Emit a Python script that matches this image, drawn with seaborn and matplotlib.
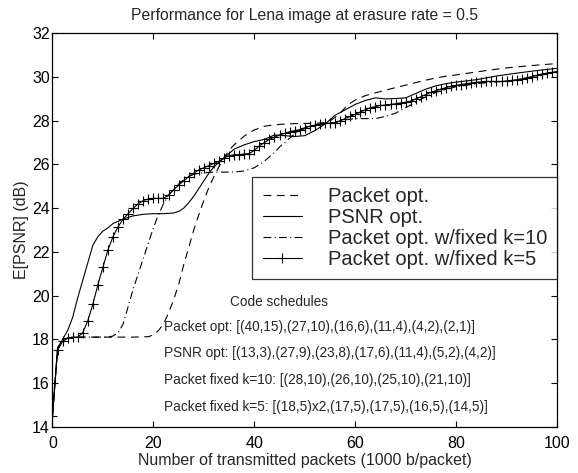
import numpy as np
import pandas as pd
import matplotlib
matplotlib.use("Agg")
import matplotlib.pyplot as plt
import seaborn as sns

# ---------------- data ----------------
title = "Performance for Lena image at erasure rate = 0.5"
xlabel = "Number of transmitted packets (1000 b/packet)"
ylabel = "E[PSNR] (dB)"
xticks = [0, 20, 40, 60, 80, 100]
yticks = [14, 16, 18, 20, 22, 24, 26, 28, 30, 32]

series_names = ["Packet opt.", "PSNR opt.", "Packet opt. w/fixed k=10", "Packet opt. w/fixed k=5"]

pkt_x = [0, 1, 2, 4, 10, 16, 19, 20, 21, 22, 23, 24, 25, 26, 27, 28, 29, 30, 31, 32, 33, 34,
         35, 36, 37, 38, 39, 40, 42, 44, 46, 48, 50, 52, 54, 55, 56, 57, 58, 59, 60, 62, 64,
         66, 68, 70, 72, 74, 76, 78, 80, 83, 86, 90, 95, 100]
pkt_y = [14.5, 17.6, 18.0, 18.1, 18.1, 18.1, 18.12, 18.2, 18.4, 18.7, 19.2, 19.8, 20.5, 21.4,
         22.2, 23.0, 23.7, 24.35, 24.95, 25.45, 25.9, 26.3, 26.65, 26.9, 27.1, 27.3, 27.45,
         27.58, 27.75, 27.82, 27.85, 27.87, 27.88, 27.88, 27.92, 28.0, 28.15, 28.35, 28.6,
         28.8, 28.95, 29.15, 29.28, 29.4, 29.52, 29.63, 29.75, 29.86, 29.96, 30.04, 30.1,
         30.2, 30.3, 30.42, 30.53, 30.62]

psnr_x = [0, 1, 2, 3, 4, 5, 6, 7, 8, 9, 10, 11, 12, 14, 16, 18, 20, 22, 24, 25, 26, 27, 28,
          29, 30, 31, 32, 33, 34, 36, 38, 40, 42, 44, 46, 48, 50, 52, 54, 56, 58, 60, 62, 64,
          66, 68, 70, 72, 74, 76, 78, 80, 84, 88, 92, 96, 100]
psnr_y = [14.5, 17.5, 18.0, 18.4, 19.0, 19.9, 20.7, 21.5, 22.3, 22.7, 22.95, 23.1, 23.3,
          23.5, 23.65, 23.72, 23.75, 23.75, 23.78, 23.85, 24.0, 24.25, 24.55, 24.9, 25.25,
          25.6, 25.9, 26.1, 26.3, 26.7, 26.9, 27.05, 27.15, 27.35, 27.32, 27.28, 27.32, 27.55,
          27.85, 28.25, 28.5, 28.75, 28.93, 29.05, 29.0, 29.02, 29.05, 29.25, 29.45, 29.6,
          29.7, 29.77, 29.88, 30.05, 30.18, 30.3, 30.4]

k10_x = [0, 1, 2, 4, 8, 11, 12, 13, 14, 15, 16, 17, 18, 19, 20, 21, 22, 23, 24, 25, 26, 27,
         28, 29, 30, 32, 34, 36, 38, 40, 41, 42, 43, 44, 45, 46, 47, 48, 49, 50, 52, 54, 56,
         58, 60, 62, 64, 66, 68, 70, 72, 74, 76, 78, 80, 84, 88, 92, 96, 100]
k10_y = [14.5, 17.6, 18.0, 18.1, 18.1, 18.1, 18.15, 18.3, 18.7, 19.5, 20.3, 21.0, 21.7, 22.4,
         23.1, 23.7, 24.2, 24.6, 24.85, 25.1, 25.3, 25.45, 25.55, 25.6, 25.62, 25.65, 25.65,
         25.66, 25.7, 25.85, 26.0, 26.15, 26.35, 26.55, 26.8, 27.0, 27.2, 27.4, 27.55, 27.65,
         27.8, 27.87, 27.92, 28.05, 28.1, 28.1, 28.1, 28.2, 28.35, 28.6, 28.85, 29.1, 29.3,
         29.45, 29.55, 29.7, 29.78, 29.85, 30.05, 30.25]

k5_x = list(range(0, 101))
k5_y = [14.5, 17.5, 17.9, 18.05, 18.1, 18.1, 18.3, 18.85, 19.6, 20.5, 21.3, 22.1, 22.7, 23.15,
        23.5, 23.75, 24.0, 24.2, 24.35, 24.42, 24.45, 24.45, 24.45, 24.6, 24.85, 25.05, 25.25,
        25.45, 25.6, 25.75, 25.85, 25.95, 26.05, 26.15, 26.3, 26.4, 26.45, 26.45, 26.48, 26.5,
        26.65, 26.85, 27.0, 27.15, 27.25, 27.35, 27.42, 27.5, 27.55, 27.6, 27.68, 27.75, 27.8,
        27.85, 27.88, 27.9, 27.92, 28.0, 28.1, 28.2, 28.3, 28.4, 28.5, 28.6, 28.65, 28.7,
        28.72, 28.75, 28.78, 28.82, 28.85, 28.9, 29.0, 29.1, 29.2, 29.3, 29.38, 29.45, 29.52,
        29.58, 29.62, 29.66, 29.7, 29.73, 29.76, 29.78, 29.8, 29.8, 29.8, 29.8, 29.82, 29.85,
        29.88, 29.92, 29.97, 30.02, 30.08, 30.14, 30.18, 30.22, 30.25]

schedule_header = "Code schedules"
schedule_lines = [
    "Packet opt: [(40,15),(27,10),(16,6),(11,4),(4,2),(2,1)]",
    "PSNR opt: [(13,3),(27,9),(23,8),(17,6),(11,4),(5,2),(4,2)]",
    "Packet fixed k=10: [(28,10),(26,10),(25,10),(21,10)]",
    "Packet fixed k=5: [(18,5)x2,(17,5),(17,5),(16,5),(14,5)]",
]

# ---------------- style ----------------
sns.set_theme(style="ticks")
plt.rcParams["font.family"] = ["Liberation Sans", "DejaVu Sans"]
plt.rcParams["xtick.direction"] = "in"
plt.rcParams["ytick.direction"] = "in"

fig = plt.figure(figsize=(5.78, 4.73), dpi=100)
ax = fig.add_axes([0.0908, 0.0979, 0.8729, 0.8315])

lw = 0.8
sns.lineplot(x=pkt_x, y=pkt_y, ax=ax, color="black", lw=lw, linestyle=(0, (7, 5)),
             label=series_names[0])
sns.lineplot(x=psnr_x, y=psnr_y, ax=ax, color="black", lw=lw, linestyle="-",
             label=series_names[1])
sns.lineplot(x=k10_x, y=k10_y, ax=ax, color="black", lw=lw, linestyle=(0, (7, 3, 1, 3)),
             label=series_names[2])
sns.lineplot(x=k5_x, y=k5_y, ax=ax, color="black", lw=lw, linestyle="-", marker="+",
             markersize=7, markeredgewidth=0.8, markeredgecolor="black",
             label=series_names[3])

ax.set_xlim(0, 100)
ax.set_ylim(14, 32)
ax.set_xticks(xticks)
ax.set_yticks(yticks)
ax.tick_params(axis="both", which="both", direction="in", top=True, right=True,
               length=4, width=0.8, labelsize=11.5, colors="black")
ax.tick_params(axis="x", pad=6.5)
ax.tick_params(axis="y", pad=2)
for s in ax.spines.values():
    s.set_visible(True)
    s.set_color("black")
    s.set_linewidth(0.9)

ax.set_title(title, fontsize=11.3, pad=10)
ax.set_xlabel(xlabel, fontsize=11.5, labelpad=2)
ax.set_ylabel(ylabel, fontsize=11.5, labelpad=2)

leg = ax.legend(loc="upper right", bbox_to_anchor=(1.0, 0.635), borderaxespad=0,
                fancybox=False, frameon=True, edgecolor="black", fontsize=14.5,
                handlelength=1.96, handletextpad=1.27, labelspacing=0.1,
                borderpad=0.5)
leg.get_frame().set_linewidth(0.9)

ax.text(35.2, 19.72, schedule_header, fontsize=9.8, va="center", ha="left")
sched_y = [18.58, 17.37, 16.14, 14.92]
for yy, line in zip(sched_y, schedule_lines):
    ax.text(22.1, yy, line, fontsize=9.8, va="center", ha="left")

fig.savefig("out.png", dpi=100)
